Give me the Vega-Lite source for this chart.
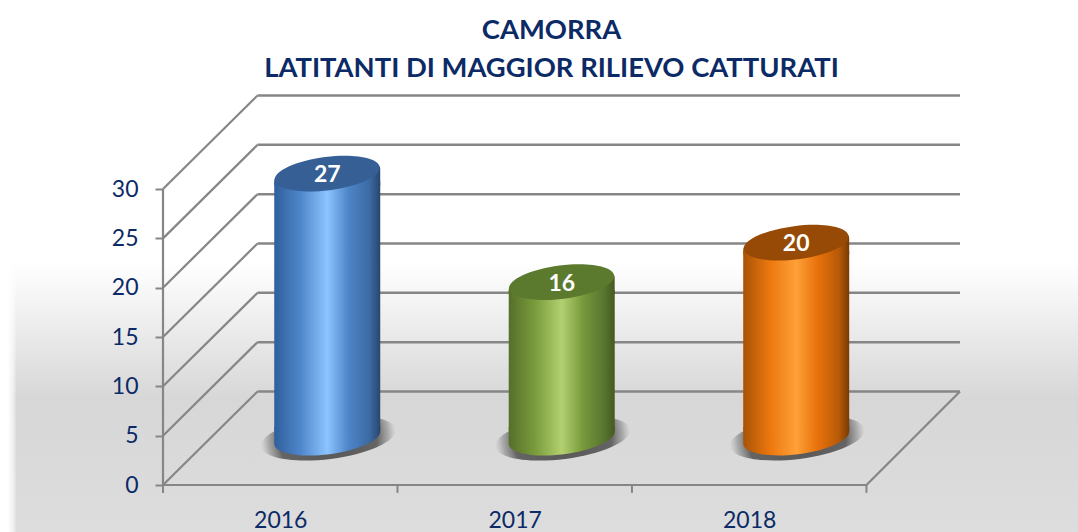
{
"$schema":"https://vega.github.io/schema/vega-lite/v6.json",
"width":797,"height":390,"autosize":"none",
"padding":{"left":163,"top":95,"right":118,"bottom":47},
"background":"white",
"config":{"view":{"stroke":null},"font":"Lato","scale":{"continuousPadding":0}},
"title":{"text":["CAMORRA","LATITANTI DI MAGGIOR RILIEVO CATTURATI"],"anchor":"middle","frame":"group","dx":-10,"fontSize":27.4,"lineHeight":38,"font":"Lato","fontWeight":"bold","color":"#0b2a66","offset":12},
"datasets":{
"bars":[{"year":"2016","pos":0.5,"value":27},{"year":"2017","pos":1.5,"value":16},{"year":"2018","pos":2.5,"value":20}],
"grid":[{"v":0,"vb":9.476},{"v":5,"vb":14.476},{"v":10,"vb":19.476},{"v":15,"vb":24.476},{"v":20,"vb":29.476},{"v":25,"vb":34.476},{"v":30,"vb":39.476}],
"xticks":[{"t":0},{"t":1},{"t":2},{"t":3}],
"bg":[{"x0":-0.661,"x1":3.95,"xf":-0.625,"y0":22.5,"y1":-5}]
},
"layer":[
{"data":{"name":"bg"},"mark":{"type":"rect","fill":{"gradient":"linear","x1":0,"y1":0,"x2":0,"y2":1,"stops":[{"offset":0,"color":"#ffffff"},{"offset":0.5,"color":"#d7d7d7"},{"offset":1,"color":"#dddddd"}]},"clip":false},
 "encoding":{"x":{"field":"x0","type":"quantitative","scale":{"domain":[0,3.399],"nice":false,"zero":false,"padding":0},
   "axis":{"values":[0.5,1.5,2.5],"labelExpr":"datum.value<1?'2016':datum.value<2?'2017':'2018'","title":null,"ticks":false,"domain":false,"grid":false,"labelFontSize":23,"labelColor":"#0b2a66","labelPadding":24,"labelFont":"Lato","zindex":1}},
  "x2":{"field":"x1"},
  "y":{"field":"y0","type":"quantitative","scale":{"domain":[0,39.53],"nice":false,"zero":false,"padding":0},
   "axis":{"values":[0,5,10,15,20,25,30],"title":null,"domain":false,"grid":false,"tickSize":8,"tickWidth":2,"tickColor":"#868686","labelFontSize":23,"labelColor":"#0b2a66","labelPadding":17,"labelFont":"Lato","zindex":1}},
  "y2":{"field":"y1"}}},
{"data":{"name":"bg"},"mark":{"type":"rect","fill":{"gradient":"linear","x1":0,"y1":0,"x2":1,"y2":0,"stops":[{"offset":0,"color":"#ffffff"},{"offset":0.7,"color":"rgba(255,255,255,0.5)"},{"offset":1,"color":"rgba(255,255,255,0)"}]},"clip":false},
 "encoding":{"x":{"field":"x0","type":"quantitative"},"x2":{"field":"xf"},"y":{"field":"y0","type":"quantitative"},"y2":{"field":"y1"}}},
{"data":{"name":"grid"},"mark":{"type":"rule","color":"#868686","strokeWidth":2.5},
 "encoding":{"x":{"datum":0.403,"type":"quantitative"},"x2":{"datum":3.399},"y":{"field":"vb","type":"quantitative"}}},
{"data":{"name":"grid"},"mark":{"type":"rule","color":"#868686","strokeWidth":2.2},
 "encoding":{"x":{"datum":0,"type":"quantitative"},"x2":{"datum":0.403},"y":{"field":"v","type":"quantitative"},"y2":{"field":"vb"}}},
{"data":{"values":[{"v":0,"vb":9.476}]},"mark":{"type":"rule","color":"#868686","strokeWidth":2.2},
 "encoding":{"x":{"datum":3,"type":"quantitative"},"x2":{"datum":3.399},"y":{"field":"v","type":"quantitative"},"y2":{"field":"vb"}}},
{"data":{"values":[{"v":0,"w":30}]},"mark":{"type":"rule","color":"#868686","strokeWidth":2.2},
 "encoding":{"x":{"datum":0,"type":"quantitative"},"y":{"field":"v","type":"quantitative"},"y2":{"field":"w"}}},
{"data":{"values":[{"v":0}]},"mark":{"type":"rule","color":"#868686","strokeWidth":2.2},
 "encoding":{"x":{"datum":0,"type":"quantitative"},"x2":{"datum":3},"y":{"field":"v","type":"quantitative"}}},
{"data":{"name":"xticks"},"mark":{"type":"rule","color":"#868686","strokeWidth":2},
 "encoding":{"x":{"field":"t","type":"quantitative"},"y":{"datum":0,"type":"quantitative"},"y2":{"datum":-0.8}}},
{"data":{"name":"bars"},"mark":{"type":"point","filled":true,"opacity":1,"size":18500,"angle":-7.2,"xOffset":48,"yOffset":-47,"clip":false,
  "shape":"M -1 0 C -1 -0.17 -0.552 -0.31 0 -0.31 C 0.552 -0.31 1 -0.17 1 0 C 1 0.17 0.552 0.31 0 0.31 C -0.552 0.31 -1 0.17 -1 0 Z",
  "fill":{"gradient":"radial","x1":0.5,"y1":0.5,"x2":0.5,"y2":0.5,"r1":0,"r2":0.5,"stops":[{"offset":0,"color":"rgba(70,70,70,0.9)"},{"offset":0.72,"color":"rgba(80,80,80,0.85)"},{"offset":0.88,"color":"rgba(110,110,110,0.45)"},{"offset":1,"color":"rgba(140,140,140,0)"}]}},
 "encoding":{"x":{"field":"pos","type":"quantitative"},"y":{"datum":0,"type":"quantitative"}}},

{"data":{"name":"bars"},"transform":[{"filter":"datum.year=='2016'"}],"layer":[
 {"mark":{"type":"point","filled":true,"opacity":1,"size":11236,"xOffset":47,"yOffset":-47.5,"clip":false,"shape":"M -0.9996 -0.2 L 0.9996 -0.2 L 0.9996 -0.1262 C 1.0216 0.048 0.5918 0.2458 0.0398 0.3155 C -0.5122 0.3852 -0.9776 0.3004 -0.9996 0.1262 Z",
  "fill":{"gradient":"linear","x1":0,"y1":0,"x2":1,"y2":0,"stops":[{"offset":0,"color":"#2f5f9c"},{"offset":0.25,"color":"#4f87cb"},{"offset":0.5,"color":"#8cc4ff"},{"offset":0.7,"color":"#4d85c8"},{"offset":0.9,"color":"#3c6aa3"},{"offset":1,"color":"#27466f"}]}},
  "encoding":{"x":{"field":"pos","type":"quantitative"},"y":{"datum":0,"type":"quantitative"}}},
 {"mark":{"type":"bar","orient":"vertical","size":106,"xOffset":47,"yOffset":-36.8,"y2Offset":-54.2,"clip":false,
  "fill":{"gradient":"linear","x1":0,"y1":0,"x2":1,"y2":0,"stops":[{"offset":0,"color":"#2f5f9c"},{"offset":0.25,"color":"#4f87cb"},{"offset":0.5,"color":"#8cc4ff"},{"offset":0.7,"color":"#4d85c8"},{"offset":0.9,"color":"#3c6aa3"},{"offset":1,"color":"#27466f"}]}},
  "encoding":{"x":{"field":"pos","type":"quantitative"},"y":{"field":"value","type":"quantitative"},"y2":{"datum":0}}},
 {"mark":{"type":"point","filled":true,"opacity":1,"size":11236,"xOffset":47,"yOffset":-43.5,"clip":false,"shape":"M -0.9996 0.2 L -0.9996 0.1262 C -1.0216 -0.048 -0.5918 -0.2458 -0.0398 -0.3155 C 0.5122 -0.3852 0.9776 -0.3004 0.9996 -0.1262 L 0.9996 0.2 Z",
  "fill":{"gradient":"linear","x1":0,"y1":0,"x2":1,"y2":0,"stops":[{"offset":0,"color":"#2f5f9c"},{"offset":0.25,"color":"#4f87cb"},{"offset":0.5,"color":"#8cc4ff"},{"offset":0.7,"color":"#4d85c8"},{"offset":0.9,"color":"#3c6aa3"},{"offset":1,"color":"#27466f"}]}},
  "encoding":{"x":{"field":"pos","type":"quantitative"},"y":{"field":"value","type":"quantitative"}}},
 {"mark":{"type":"point","fill":"#355f95","filled":true,"opacity":1,"size":11000,"xOffset":47,"yOffset":-45,"clip":false,"shape":"M -0.9996 0.1262 C -1.0216 -0.048 -0.5918 -0.2458 -0.0398 -0.3155 C 0.5122 -0.3852 0.9776 -0.3004 0.9996 -0.1262 C 1.0216 0.048 0.5918 0.2458 0.0398 0.3155 C -0.5122 0.3852 -0.9776 0.3004 -0.9996 0.1262 Z"},
  "encoding":{"x":{"field":"pos","type":"quantitative"},"y":{"field":"value","type":"quantitative"}}}
]},
{"data":{"name":"bars"},"transform":[{"filter":"datum.year=='2017'"}],"layer":[
 {"mark":{"type":"point","filled":true,"opacity":1,"size":11236,"xOffset":47,"yOffset":-47.5,"clip":false,"shape":"M -0.9996 -0.2 L 0.9996 -0.2 L 0.9996 -0.1262 C 1.0216 0.048 0.5918 0.2458 0.0398 0.3155 C -0.5122 0.3852 -0.9776 0.3004 -0.9996 0.1262 Z",
  "fill":{"gradient":"linear","x1":0,"y1":0,"x2":1,"y2":0,"stops":[{"offset":0,"color":"#566f2a"},{"offset":0.25,"color":"#7a9c3c"},{"offset":0.5,"color":"#b2d070"},{"offset":0.7,"color":"#78993b"},{"offset":0.9,"color":"#587530"},{"offset":1,"color":"#445a20"}]}},
  "encoding":{"x":{"field":"pos","type":"quantitative"},"y":{"datum":0,"type":"quantitative"}}},
 {"mark":{"type":"bar","orient":"vertical","size":106,"xOffset":47,"yOffset":-36.8,"y2Offset":-54.2,"clip":false,
  "fill":{"gradient":"linear","x1":0,"y1":0,"x2":1,"y2":0,"stops":[{"offset":0,"color":"#566f2a"},{"offset":0.25,"color":"#7a9c3c"},{"offset":0.5,"color":"#b2d070"},{"offset":0.7,"color":"#78993b"},{"offset":0.9,"color":"#587530"},{"offset":1,"color":"#445a20"}]}},
  "encoding":{"x":{"field":"pos","type":"quantitative"},"y":{"field":"value","type":"quantitative"},"y2":{"datum":0}}},
 {"mark":{"type":"point","filled":true,"opacity":1,"size":11236,"xOffset":47,"yOffset":-43.5,"clip":false,"shape":"M -0.9996 0.2 L -0.9996 0.1262 C -1.0216 -0.048 -0.5918 -0.2458 -0.0398 -0.3155 C 0.5122 -0.3852 0.9776 -0.3004 0.9996 -0.1262 L 0.9996 0.2 Z",
  "fill":{"gradient":"linear","x1":0,"y1":0,"x2":1,"y2":0,"stops":[{"offset":0,"color":"#566f2a"},{"offset":0.25,"color":"#7a9c3c"},{"offset":0.5,"color":"#b2d070"},{"offset":0.7,"color":"#78993b"},{"offset":0.9,"color":"#587530"},{"offset":1,"color":"#445a20"}]}},
  "encoding":{"x":{"field":"pos","type":"quantitative"},"y":{"field":"value","type":"quantitative"}}},
 {"mark":{"type":"point","fill":"#5b7a2e","filled":true,"opacity":1,"size":11000,"xOffset":47,"yOffset":-45,"clip":false,"shape":"M -0.9996 0.1262 C -1.0216 -0.048 -0.5918 -0.2458 -0.0398 -0.3155 C 0.5122 -0.3852 0.9776 -0.3004 0.9996 -0.1262 C 1.0216 0.048 0.5918 0.2458 0.0398 0.3155 C -0.5122 0.3852 -0.9776 0.3004 -0.9996 0.1262 Z"},
  "encoding":{"x":{"field":"pos","type":"quantitative"},"y":{"field":"value","type":"quantitative"}}}
]},
{"data":{"name":"bars"},"transform":[{"filter":"datum.year=='2018'"}],"layer":[
 {"mark":{"type":"point","filled":true,"opacity":1,"size":11236,"xOffset":47,"yOffset":-47.5,"clip":false,"shape":"M -0.9996 -0.2 L 0.9996 -0.2 L 0.9996 -0.1262 C 1.0216 0.048 0.5918 0.2458 0.0398 0.3155 C -0.5122 0.3852 -0.9776 0.3004 -0.9996 0.1262 Z",
  "fill":{"gradient":"linear","x1":0,"y1":0,"x2":1,"y2":0,"stops":[{"offset":0,"color":"#a85306"},{"offset":0.25,"color":"#ec770e"},{"offset":0.5,"color":"#ffa038"},{"offset":0.7,"color":"#e8720c"},{"offset":0.9,"color":"#b85a08"},{"offset":1,"color":"#773b02"}]}},
  "encoding":{"x":{"field":"pos","type":"quantitative"},"y":{"datum":0,"type":"quantitative"}}},
 {"mark":{"type":"bar","orient":"vertical","size":106,"xOffset":47,"yOffset":-36.8,"y2Offset":-54.2,"clip":false,
  "fill":{"gradient":"linear","x1":0,"y1":0,"x2":1,"y2":0,"stops":[{"offset":0,"color":"#a85306"},{"offset":0.25,"color":"#ec770e"},{"offset":0.5,"color":"#ffa038"},{"offset":0.7,"color":"#e8720c"},{"offset":0.9,"color":"#b85a08"},{"offset":1,"color":"#773b02"}]}},
  "encoding":{"x":{"field":"pos","type":"quantitative"},"y":{"field":"value","type":"quantitative"},"y2":{"datum":0}}},
 {"mark":{"type":"point","filled":true,"opacity":1,"size":11236,"xOffset":47,"yOffset":-43.5,"clip":false,"shape":"M -0.9996 0.2 L -0.9996 0.1262 C -1.0216 -0.048 -0.5918 -0.2458 -0.0398 -0.3155 C 0.5122 -0.3852 0.9776 -0.3004 0.9996 -0.1262 L 0.9996 0.2 Z",
  "fill":{"gradient":"linear","x1":0,"y1":0,"x2":1,"y2":0,"stops":[{"offset":0,"color":"#a85306"},{"offset":0.25,"color":"#ec770e"},{"offset":0.5,"color":"#ffa038"},{"offset":0.7,"color":"#e8720c"},{"offset":0.9,"color":"#b85a08"},{"offset":1,"color":"#773b02"}]}},
  "encoding":{"x":{"field":"pos","type":"quantitative"},"y":{"field":"value","type":"quantitative"}}},
 {"mark":{"type":"point","fill":"#964a05","filled":true,"opacity":1,"size":11000,"xOffset":47,"yOffset":-45,"clip":false,"shape":"M -0.9996 0.1262 C -1.0216 -0.048 -0.5918 -0.2458 -0.0398 -0.3155 C 0.5122 -0.3852 0.9776 -0.3004 0.9996 -0.1262 C 1.0216 0.048 0.5918 0.2458 0.0398 0.3155 C -0.5122 0.3852 -0.9776 0.3004 -0.9996 0.1262 Z"},
  "encoding":{"x":{"field":"pos","type":"quantitative"},"y":{"field":"value","type":"quantitative"}}}
]},
{"data":{"name":"bars"},"mark":{"type":"text","color":"white","fontSize":23,"font":"Lato","fontWeight":"bold","xOffset":47,"yOffset":-43.5,"baseline":"middle","align":"center"},
 "encoding":{"x":{"field":"pos","type":"quantitative"},"y":{"field":"value","type":"quantitative"},"text":{"field":"value","type":"quantitative"}}}
]
}
